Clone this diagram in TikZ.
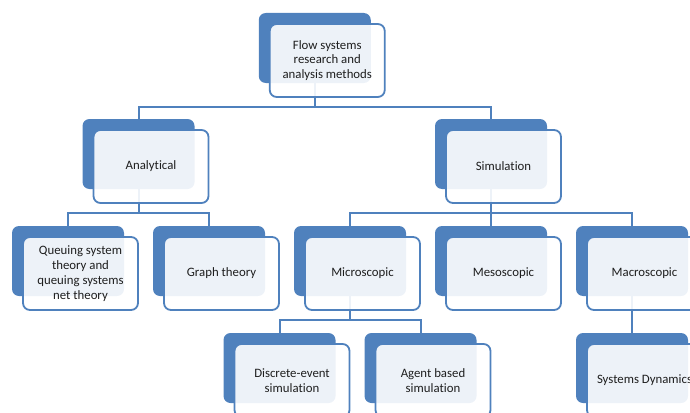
\documentclass[tikz,border=0pt]{standalone}
\usepackage{fontspec}
\setmainfont{Carlito}[Ligatures=NoCommon]
\definecolor{boxblue}{HTML}{4F81BD}
\definecolor{inktext}{HTML}{1E1E1E}

\begin{document}
\begin{tikzpicture}[
    x=1pt, y=-1pt,
    back/.style={
      fill=boxblue,
      rounded corners=7pt,
      minimum width=112pt,
      minimum height=70pt,
      inner sep=0pt
    },
    front/.style={
      draw=boxblue,
      line width=1.8pt,
      fill=white,
      fill opacity=0.9,
      text opacity=1,
      text=inktext,
      rounded corners=7pt,
      minimum width=115pt,
      minimum height=73pt,
      inner sep=0pt,
      align=center,
      font=\fontsize{12.8}{14.8}\selectfont
    },
    link/.style={draw=boxblue, line width=2pt}
  ]
    \useasboundingbox (0,0) rectangle (690,412);
    \clip (0,0) rectangle (690,412);

    % back panels
    \node[back] (flowbk) at (314.75,48) {};
    \node[back] (anabk) at (138.5,154) {};
    \node[back] (simbk) at (491,154) {};
    \node[back] (queuebk) at (68,261) {};
    \node[back] (graphbk) at (209,261) {};
    \node[back] (microbk) at (350,261) {};
    \node[back] (mesobk) at (491,261) {};
    \node[back] (macrobk) at (632,261) {};
    \node[back] (discbk) at (279.5,368) {};
    \node[back] (agentbk) at (420.5,368) {};
    \node[back] (sysbk) at (632,368) {};

    % tree lines
    \draw[link] (flowbk.south) -- ++(0,24) -| (anabk.north);
    \draw[link] (flowbk.south) -- ++(0,24) -| (simbk.north);
    \draw[link] (anabk.south) -- ++(0,24) -| (queuebk.north);
    \draw[link] (anabk.south) -- ++(0,24) -| (graphbk.north);
    \draw[link] (simbk.south) -- ++(0,24) -| (microbk.north);
    \draw[link] (simbk.south) -- (mesobk.north);
    \draw[link] (simbk.south) -- ++(0,24) -| (macrobk.north);
    \draw[link] (microbk.south) -- ++(0,24) -| (discbk.north);
    \draw[link] (microbk.south) -- ++(0,24) -| (agentbk.north);
    \draw[link] (macrobk.south) -- (sysbk.north);

    % text panels
    \node[front] (flow) at (327.25,60.5) {Flow systems\\research and\\analysis methods};
    \node[front] (ana) at (151,166.5) {Analytical};
    \node[front] (sim) at (503.5,166.5) {Simulation};
    \node[front] (queue) at (80.5,273.5) {Queuing system\\theory and\\queuing systems\\net theory};
    \node[front] (graph) at (221.5,273.5) {Graph theory};
    \node[front] (micro) at (362.5,273.5) {Microscopic};
    \node[front] (meso) at (503.5,273.5) {Mesoscopic};
    \node[front] (macro) at (644.5,273.5) {Macroscopic};
    \node[front] (disc) at (292,380.5) {Discrete-event\\simulation};
    \node[front] (agent) at (433,380.5) {Agent based\\simulation};
    \node[front] (sys) at (644.5,380.5) {Systems Dynamics};
  \end{tikzpicture}
\end{document}
